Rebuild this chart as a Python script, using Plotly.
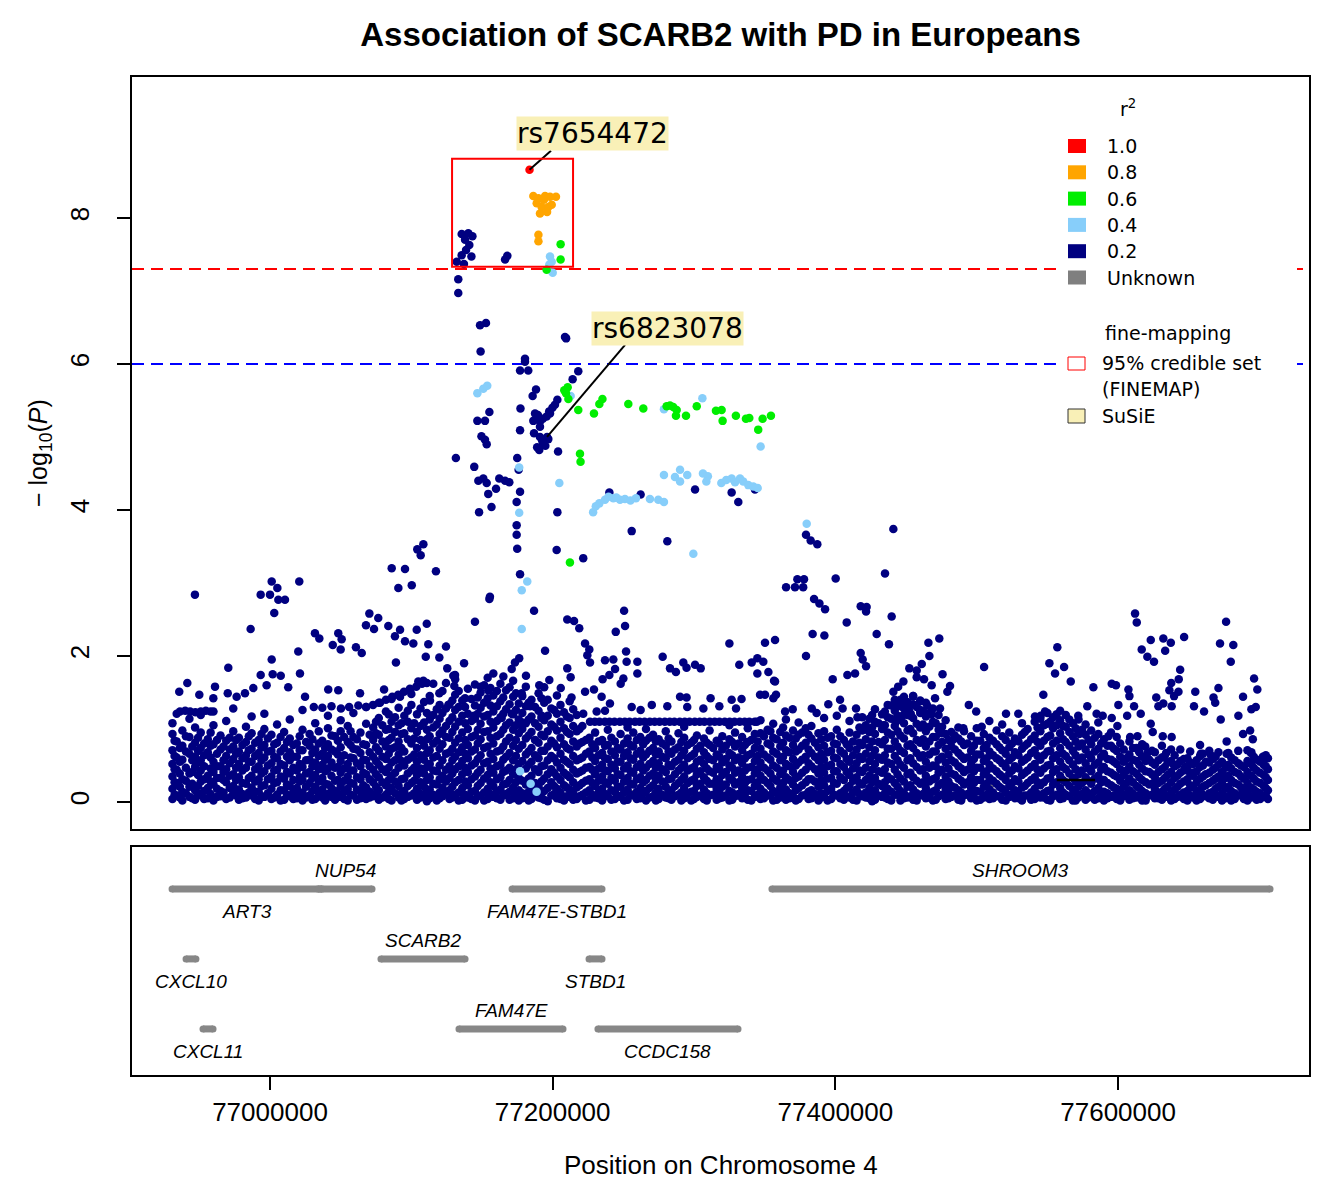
import plotly.graph_objects as go

# positions are kb on chromosome 4, values are -log10(P)
# r2 with the lead SNP decides the colour

lead_snp = [(77183.6, 8.66)]

r2_08 = [(77186.3, 8.30), (77189.9, 8.27), (77194.6, 8.30), (77198.1, 8.29), (77202.3, 8.29),
         (77188.7, 8.20), (77192.2, 8.15), (77196.9, 8.15), (77191.0, 8.06), (77196.0, 8.08),
         (77199.3, 8.18), (77193.8, 8.25), (77189.9, 7.77), (77189.9, 7.68)]

r2_06 = [(77205.6, 7.64), (77205.6, 7.43), (77195.7, 7.29), (77210.6, 5.68), (77209.4, 5.60),
         (77211.1, 5.52), (77218.1, 5.37), (77229.2, 5.32), (77233.0, 5.45), (77235.2, 5.52),
         (77253.5, 5.45), (77264.1, 5.39), (77280.6, 5.42), (77285.3, 5.41), (77287.7, 5.37),
         (77287.2, 5.29), (77294.3, 5.29), (77301.9, 5.42), (77315.5, 5.36), (77319.5, 5.37),
         (77320.2, 5.22), (77329.6, 5.29), (77336.7, 5.25), (77339.1, 5.26), (77348.5, 5.25),
         (77354.4, 5.29), (77345.4, 5.10), (77219.3, 4.77), (77219.7, 4.66), (77212.2, 3.28),
         (77208.2, 5.64), (77283.0, 5.43)]

r2_04 = [(77198.1, 7.47), (77199.3, 7.40), (77197.6, 7.36), (77200.0, 7.25), (77146.7, 5.60),
         (77150.9, 5.66), (77153.7, 5.70), (77212.7, 5.56), (77305.9, 5.53), (77278.7, 5.38),
         (77347.1, 4.87), (77176.3, 4.58), (77204.7, 4.37), (77176.3, 3.96), (77278.7, 4.48),
         (77286.5, 4.45), (77290.1, 4.55), (77295.2, 4.48), (77290.1, 4.39), (77306.3, 4.50),
         (77309.8, 4.46), (77308.7, 4.39), (77319.3, 4.37), (77326.6, 4.43), (77332.5, 4.43),
         (77334.8, 4.39), (77338.4, 4.34), (77341.9, 4.32), (77322.8, 4.41), (77329.0, 4.38),
         (77345.0, 4.30), (77228.6, 3.97), (77233.0, 4.09), (77237.0, 4.14), (77242.9, 4.16),
         (77247.6, 4.14), (77251.1, 4.15), (77258.9, 4.16), (77268.8, 4.15), (77274.7, 4.14),
         (77278.7, 4.11), (77239.5, 4.18), (77245.0, 4.17), (77255.0, 4.13), (77230.5, 4.05),
         (77299.5, 3.40), (77182.0, 3.02), (77178.1, 2.90), (77178.1, 2.37), (77379.7, 3.81),
         (77176.9, 0.42), (77184.4, 0.25), (77188.6, 0.14)]

r2_unknown = [(77255.2, 0.11), (77318.4, 0.06), (77510.6, 0.25)]

# r2 < 0.2, the peak and everything standing clear of the dense band
r2_02_peak = [
    (77135.6, 7.78), (77140.3, 7.79), (77143.2, 7.75), (77138.0, 7.70), (77141.0, 7.63),
    (77138.7, 7.56), (77135.6, 7.49), (77142.5, 7.47), (77132.1, 7.40), (77137.2, 7.37),
    (77166.3, 7.43), (77167.9, 7.48), (77133.2, 7.16), (77133.2, 6.97), (77148.6, 6.53),
    (77152.8, 6.56), (77149.0, 6.17), (77208.7, 6.37), (77209.5, 6.35), (77180.4, 6.07),
    (77180.4, 6.03), (77176.9, 5.91), (77182.7, 5.91), (77218.1, 5.90), (77214.1, 5.79),
    (77188.2, 5.65), (77185.8, 5.56), (77203.3, 5.51), (77201.6, 5.44), (77177.2, 5.39),
    (77155.2, 5.34), (77187.5, 5.32), (77198.1, 5.32), (77146.7, 5.22), (77152.1, 5.22),
    (77186.3, 5.22), (77191.0, 5.21), (77195.7, 5.28), (77191.0, 5.14), (77176.9, 5.09),
    (77186.8, 5.05), (77149.6, 5.01), (77152.1, 4.96), (77153.3, 4.90), (77191.0, 5.00),
    (77196.9, 4.97), (77193.3, 4.91), (77190.5, 4.82), (77203.8, 4.80), (77131.5, 4.71),
    (77174.9, 4.71), (77144.5, 4.59), (77175.9, 4.55), (77147.4, 4.40), (77150.9, 4.43),
    (77153.3, 4.37), (77162.2, 4.43), (77166.3, 4.40), (77169.3, 4.38), (77154.4, 4.22),
    (77159.9, 4.29), (77176.9, 4.25), (77174.5, 4.11), (77156.7, 4.04), (77147.9, 3.97),
    (77203.3, 3.97), (77174.5, 3.79), (77174.5, 3.66), (77174.9, 3.47), (77202.8, 3.45),
    (77221.6, 3.34), (77255.9, 3.71), (77281.1, 3.57), (77240.1, 4.24), (77262.2, 4.21),
    (77300.7, 4.28), (77326.6, 4.24), (77331.3, 4.11), (77343.1, 4.28), (77176.9, 3.12),
    (77155.6, 2.81), (77196.0, 5.00), (77189.5, 5.30), (77193.0, 5.25), (77197.5, 5.35),
    (77199.8, 5.40), (77192.5, 4.95), (77194.8, 4.88), (77189.0, 4.86)]

r2_02_left = [
    (77108.5, 3.53), (77104.2, 3.46), (77106.6, 3.38), (77086.1, 3.20), (77095.5, 3.19),
    (77117.4, 3.16), (77090.8, 2.93), (77100.3, 2.97), (76946.9, 2.84), (77001.2, 3.02),
    (77020.7, 3.02), (76993.4, 2.84), (77000.0, 2.84), (77005.2, 2.93), (77005.9, 2.77),
    (77010.6, 2.77), (77003.0, 2.59), (76986.3, 2.37), (77070.3, 2.58), (77076.6, 2.52),
    (77067.9, 2.42), (77073.6, 2.37), (77083.7, 2.41), (77092.0, 2.36), (77088.4, 2.27),
    (77031.8, 2.31), (77034.9, 2.24), (77048.3, 2.31), (77050.7, 2.23), (77044.4, 2.15),
    (77050.0, 2.09), (77060.8, 2.12), (77064.9, 2.04), (77095.5, 2.20), (77101.4, 2.17),
    (77103.8, 2.36), (77110.9, 2.44), (77112.0, 2.16), (77124.5, 2.13), (77110.2, 1.99),
    (77119.8, 1.98), (77125.4, 1.83), (77129.7, 1.73), (77089.1, 1.91), (77020.0, 2.06),
    (77001.2, 1.95), (76970.5, 1.84), (76993.4, 1.74), (77001.9, 1.75), (77007.6, 1.73),
    (77021.2, 1.76), (76941.5, 1.63), (76935.8, 1.51), (76961.1, 1.58), (76950.0, 1.47),
    (76959.9, 1.42), (76970.1, 1.49), (76976.4, 1.44), (76982.3, 1.49), (76988.2, 1.56),
    (76997.6, 1.60), (77012.9, 1.57), (77041.2, 1.54), (77048.3, 1.53), (77063.7, 1.49),
    (77024.8, 1.44), (77080.7, 1.54), (77104.9, 1.65), (77108.5, 1.66), (77115.5, 1.62),
    (77124.5, 1.63), (77130.4, 1.59), (77099.1, 1.53), (77092.0, 1.44), (77119.8, 1.49),
    (77126.2, 1.33), (77113.2, 1.39), (76936.3, 1.24), (76940.0, 1.25), (76943.5, 1.24),
    (76947.2, 1.23), (76951.0, 1.24), (76954.6, 1.25), (76958.0, 1.24), (77072.9, 1.33),
    (77077.8, 1.36), (77082.0, 1.40), (77086.5, 1.44), (77090.7, 1.47), (77094.8, 1.51),
    (77099.0, 1.55), (77103.5, 1.58), (77107.5, 1.62), (77111.0, 1.63), (77031.0, 1.30),
    (77037.0, 1.29), (77043.5, 1.31), (77050.2, 1.28), (77056.0, 1.30), (77062.5, 1.32),
    (77068.0, 1.30)]

r2_02_mid = [
    (77155.2, 2.78), (77145.0, 2.47), (77186.8, 2.62), (77210.3, 2.50), (77215.1, 2.48),
    (77218.8, 2.38), (77250.5, 2.62), (77251.2, 2.41), (77244.6, 2.33), (77222.9, 2.17),
    (77225.9, 2.09), (77224.5, 2.01), (77226.4, 1.91), (77194.6, 2.07), (77325.0, 2.17),
    (77350.2, 2.18), (77357.3, 2.22), (77251.9, 2.06), (77277.8, 1.99), (77252.3, 1.92),
    (77259.9, 1.92), (77237.0, 1.94), (77242.9, 1.95), (77244.1, 1.82), (77240.1, 1.74),
    (77235.3, 1.68), (77250.0, 1.69), (77248.1, 1.62), (77259.9, 1.76), (77283.0, 1.83),
    (77287.2, 1.78), (77292.4, 1.91), (77294.7, 1.84), (77300.7, 1.88), (77304.7, 1.83),
    (77332.0, 1.88), (77340.8, 1.91), (77344.8, 1.97), (77349.0, 1.92), (77344.8, 1.76),
    (77352.6, 1.78), (77356.6, 1.66), (77137.3, 1.90), (77176.3, 1.97), (77173.3, 1.91),
    (77171.0, 1.82), (77158.0, 1.76), (77165.1, 1.72), (77181.1, 1.73), (77130.9, 1.74),
    (77210.3, 1.83), (77212.7, 1.71), (77190.5, 1.60), (77197.6, 1.67), (77205.7, 1.56),
    (77149.1, 1.58), (77154.4, 1.53), (77138.0, 1.42), (77222.9, 1.51), (77229.2, 1.54),
    (77234.6, 1.44), (77240.5, 1.35), (77213.3, 1.43), (77178.1, 1.49), (77184.0, 1.31),
    (77192.2, 1.18), (77171.0, 1.21), (77163.9, 1.15), (77178.7, 1.09), (77144.3, 1.18),
    (77290.1, 1.44), (77294.7, 1.43), (77311.7, 1.42), (77326.6, 1.40), (77333.6, 1.41),
    (77346.7, 1.47), (77350.2, 1.47), (77356.1, 1.42), (77270.1, 1.33), (77255.9, 1.30),
    (77262.2, 1.26), (77281.1, 1.31), (77295.2, 1.30), (77306.6, 1.28), (77317.9, 1.31),
    (77329.7, 1.28), (77221.6, 1.21), (77231.1, 1.24), (77237.0, 1.25)]

# block of SNPs in perfect LD with each other, same P
r2_02_block = [
    (77226.4, 1.10), (77229.8, 1.10), (77233.1, 1.10), (77236.9, 1.10), (77240.2, 1.10),
    (77243.7, 1.10), (77247.5, 1.10), (77251.0, 1.10), (77254.4, 1.10), (77258.2, 1.10),
    (77261.5, 1.10), (77265.0, 1.10), (77268.7, 1.10), (77272.1, 1.10), (77275.6, 1.10),
    (77279.3, 1.10), (77282.8, 1.10), (77286.1, 1.10), (77289.9, 1.10), (77293.4, 1.10),
    (77296.8, 1.10), (77300.5, 1.10), (77304.0, 1.10), (77307.3, 1.10), (77311.1, 1.10),
    (77314.6, 1.10), (77318.0, 1.10), (77321.7, 1.10), (77325.2, 1.10), (77328.6, 1.10),
    (77332.3, 1.10), (77335.8, 1.10), (77339.1, 1.10), (77342.9, 1.10), (77344.4, 1.10)]

r2_02_right = [
    (77379.2, 3.66), (77382.5, 3.58), (77387.2, 3.53), (77441.0, 3.74), (77435.1, 3.13),
    (77373.1, 3.05), (77377.8, 3.05), (77365.1, 2.94), (77371.4, 2.94), (77377.2, 2.94),
    (77400.2, 3.06), (77384.9, 2.78), (77388.7, 2.72), (77392.7, 2.64), (77417.9, 2.68),
    (77422.1, 2.67), (77421.7, 2.61), (77439.8, 2.54), (77408.0, 2.46), (77383.9, 2.30),
    (77392.2, 2.28), (77429.2, 2.30), (77437.9, 2.16), (77379.2, 2.00), (77417.9, 2.04),
    (77419.3, 1.95), (77421.7, 1.86), (77408.5, 1.74), (77413.9, 1.76), (77398.1, 1.68),
    (77465.8, 2.18), (77473.5, 2.24), (77466.5, 2.00), (77461.1, 1.89), (77452.3, 1.83),
    (77457.5, 1.80), (77475.8, 1.75), (77505.2, 1.85), (77551.4, 1.90), (77357.3, 1.65),
    (77358.0, 1.47), (77448.1, 1.65), (77444.4, 1.58), (77441.0, 1.51), (77457.5, 1.71),
    (77462.7, 1.68), (77468.1, 1.60), (77481.1, 1.59), (77479.2, 1.51), (77395.0, 1.34),
    (77403.3, 1.40), (77405.1, 1.28), (77414.6, 1.28), (77415.6, 1.16), (77383.3, 1.28),
    (77386.7, 1.22), (77364.4, 1.24), (77369.8, 1.27), (77547.1, 1.47), (77494.4, 1.33),
    (77499.6, 1.24), (77520.7, 1.21), (77529.4, 1.21), (77541.2, 1.17), (77548.3, 1.24),
    (77423.3, 0.98), (77433.9, 1.05), (77442.9, 1.10), (77453.3, 1.21), (77459.9, 1.26),
    (77483.0, 0.85), (77475.2, 0.94), (77490.5, 1.01), (77503.5, 1.03), (77508.9, 1.11),
    (77446.0, 1.40), (77450.5, 1.35), (77455.0, 1.45), (77460.0, 1.38), (77465.0, 1.32),
    (77470.5, 1.42), (77474.0, 1.28), (77447.5, 1.18), (77452.0, 1.26), (77468.0, 1.20),
    (77612.0, 2.58), (77613.2, 2.46), (77676.4, 2.47), (77557.0, 2.12), (77623.1, 2.22),
    (77632.0, 2.24), (77646.7, 2.26), (77637.3, 2.18), (77633.3, 2.07), (77616.7, 2.09),
    (77620.7, 1.99), (77625.4, 1.92), (77672.1, 2.17), (77681.5, 2.15), (77679.7, 1.92),
    (77561.8, 1.85), (77555.4, 1.76), (77566.5, 1.65), (77643.9, 1.81), (77642.9, 1.68),
    (77637.6, 1.63), (77696.2, 1.69), (77698.5, 1.54), (77582.5, 1.57), (77595.5, 1.62),
    (77598.5, 1.60), (77607.3, 1.54), (77608.0, 1.45), (77636.3, 1.53), (77639.6, 1.45),
    (77642.7, 1.51), (77627.0, 1.43), (77632.0, 1.35), (77628.5, 1.31), (77637.9, 1.31),
    (77654.6, 1.51), (77671.0, 1.56), (77667.5, 1.43), (77668.7, 1.36), (77688.4, 1.44),
    (77653.7, 1.31), (77660.8, 1.24), (77694.3, 1.27), (77697.4, 1.30), (77685.1, 1.18),
    (77672.6, 1.13), (77600.2, 1.33), (77611.3, 1.31), (77616.0, 1.21), (77595.5, 1.15),
    (77599.5, 1.04), (77578.2, 1.31), (77571.8, 1.18), (77584.8, 1.21), (77589.1, 1.18),
    (77606.4, 1.18), (77623.1, 1.07), (77624.5, 0.96), (77631.6, 0.90), (77637.9, 0.89),
    (77688.4, 0.93), (77693.4, 0.98), (77695.3, 0.86), (77676.8, 0.83), (77619.2, 0.76),
    (77620.8, 0.67), (77634.0, 0.67), (77658.5, 0.66), (77665.6, 0.64), (77676.8, 0.66),
    (77694.3, 0.68), (77702.4, 0.62), (77702.4, 0.55), (77545.2, 1.18), (77572.6, 0.93),
    (77593.1, 0.90), (77608.5, 0.89), (77613.7, 0.90), (77614.4, 0.71), (77638.8, 0.52),
    (77647.4, 0.48), (77652.9, 0.40)]

# the dense band of weak SNPs, read column by column (kb, [-log10 P ...])
r2_02_band = [
    (76931, [0.04, 0.18, 0.35, 0.52, 0.71, 0.93, 1.08]),
    (76934, [0.09, 0.26, 0.44, 0.61, 0.83, 1.21]),
    (76938, [0.02, 0.14, 0.31, 0.58, 0.77, 0.98]),
    (76943, [0.07, 0.21, 0.39, 0.66, 0.89, 1.14]),
    (76947, [0.03, 0.16, 0.48, 0.62, 0.81, 1.02]),
    (76951, [0.11, 0.28, 0.43, 0.57, 0.74, 0.95, 1.19]),
    (76956, [0.05, 0.19, 0.36, 0.68, 0.86]),
    (76960, [0.02, 0.24, 0.41, 0.55, 0.79, 1.05, 1.24]),
    (76965, [0.08, 0.15, 0.33, 0.49, 0.72, 0.91]),
    (76969, [0.04, 0.27, 0.45, 0.63, 0.84, 1.11]),
    (76974, [0.12, 0.22, 0.38, 0.59, 0.76, 0.97, 1.28]),
    (76978, [0.03, 0.17, 0.34, 0.52, 0.69, 0.88]),
    (76983, [0.06, 0.25, 0.47, 0.64, 0.82, 1.03]),
    (76987, [0.09, 0.20, 0.36, 0.55, 0.73, 0.94, 1.17]),
    (76992, [0.02, 0.14, 0.31, 0.49, 0.67, 0.85]),
    (76996, [0.07, 0.23, 0.42, 0.61, 0.78, 1.00, 1.21]),
    (77001, [0.04, 0.18, 0.35, 0.53, 0.70, 0.92]),
    (77005, [0.10, 0.27, 0.44, 0.60, 0.81, 1.06]),
    (77010, [0.03, 0.16, 0.32, 0.50, 0.74, 0.96]),
    (77014, [0.08, 0.22, 0.39, 0.57, 0.68, 0.87, 1.13]),
    (77019, [0.05, 0.19, 0.43, 0.62, 0.80]),
    (77023, [0.02, 0.13, 0.30, 0.48, 0.71, 0.99, 1.26]),
    (77028, [0.09, 0.26, 0.41, 0.58, 0.77, 0.93]),
    (77032, [0.04, 0.21, 0.37, 0.54, 0.72, 1.08]),
    (77037, [0.06, 0.17, 0.33, 0.51, 0.66, 0.84]),
    (77041, [0.11, 0.24, 0.46, 0.63, 0.79, 1.01, 1.18]),
    (77046, [0.03, 0.15, 0.29, 0.47, 0.69, 0.90]),
    (77050, [0.07, 0.22, 0.40, 0.56, 0.75, 0.97, 1.12]),
    (77055, [0.02, 0.18, 0.35, 0.52, 0.82, 1.04]),
    (77059, [0.09, 0.25, 0.43, 0.60, 0.73, 0.89, 1.22]),
    (77064, [0.05, 0.14, 0.31, 0.49, 0.67, 0.95]),
    (77068, [0.04, 0.20, 0.38, 0.57, 0.78, 1.07, 1.30]),
    (77073, [0.08, 0.27, 0.44, 0.62, 0.85, 1.02]),
    (77077, [0.03, 0.16, 0.34, 0.51, 0.70, 0.92, 1.15, 1.36]),
    (77082, [0.10, 0.23, 0.41, 0.59, 0.76, 0.99, 1.24]),
    (77086, [0.02, 0.19, 0.36, 0.54, 0.73, 0.88, 1.10, 1.41]),
    (77091, [0.06, 0.22, 0.47, 0.65, 0.83, 1.05, 1.29]),
    (77095, [0.04, 0.15, 0.32, 0.50, 0.69, 0.94, 1.18]),
    (77100, [0.09, 0.26, 0.43, 0.61, 0.80, 1.01, 1.33, 1.48]),
    (77104, [0.03, 0.18, 0.37, 0.55, 0.74, 0.96, 1.20]),
    (77109, [0.07, 0.21, 0.39, 0.58, 0.77, 1.09, 1.37]),
    (77113, [0.05, 0.17, 0.34, 0.52, 0.71, 0.90, 1.13, 1.45]),
    (77118, [0.02, 0.24, 0.42, 0.63, 0.84, 1.06, 1.27]),
    (77122, [0.08, 0.20, 0.36, 0.57, 0.79, 0.98, 1.22, 1.52]),
    (77127, [0.04, 0.16, 0.33, 0.49, 0.68, 0.88, 1.11, 1.34]),
    (77131, [0.10, 0.27, 0.45, 0.62, 0.81, 1.03, 1.26, 1.47, 1.68]),
    (77136, [0.03, 0.19, 0.38, 0.56, 0.75, 0.95, 1.18, 1.39]),
    (77140, [0.06, 0.23, 0.41, 0.60, 0.78, 1.00, 1.21, 1.55]),
    (77145, [0.02, 0.15, 0.35, 0.53, 0.72, 0.91, 1.14, 1.32, 1.61]),
    (77149, [0.09, 0.26, 0.44, 0.64, 0.86, 1.07, 1.29, 1.50]),
    (77154, [0.04, 0.18, 0.37, 0.55, 0.76, 0.97, 1.19, 1.42, 1.70]),
    (77158, [0.07, 0.22, 0.40, 0.59, 0.80, 1.02, 1.24, 1.46]),
    (77163, [0.03, 0.17, 0.34, 0.51, 0.71, 0.93, 1.16, 1.38, 1.62]),
    (77167, [0.11, 0.25, 0.43, 0.62, 0.83, 1.05, 1.27, 1.53]),
    (77172, [0.05, 0.20, 0.38, 0.57, 0.77, 0.99, 1.20, 1.44, 1.66]),
    (77176, [0.02, 0.16, 0.33, 0.52, 0.73, 0.94, 1.13, 1.35]),
    (77181, [0.08, 0.24, 0.46, 0.65, 0.87, 1.08, 1.31, 1.58]),
    (77185, [0.04, 0.19, 0.36, 0.55, 0.74, 0.96, 1.17, 1.40]),
    (77190, [0.06, 0.21, 0.41, 0.60, 0.81, 1.03, 1.25, 1.49]),
    (77194, [0.03, 0.15, 0.32, 0.50, 0.70, 0.90, 1.12, 1.36, 1.57]),
    (77199, [0.09, 0.27, 0.45, 0.63, 0.84, 1.06, 1.28]),
    (77203, [0.05, 0.18, 0.35, 0.54, 0.75, 0.98, 1.21, 1.46]),
    (77208, [0.02, 0.23, 0.40, 0.58, 0.79, 1.01, 1.23]),
    (77212, [0.07, 0.17, 0.34, 0.52, 0.72, 0.93, 1.15, 1.38]),
    (77217, [0.04, 0.20, 0.39, 0.57, 0.76, 0.97, 1.19]),
    (77221, [0.10, 0.26, 0.43, 0.61, 0.82, 1.04]),
    (77226, [0.03, 0.16, 0.31, 0.48, 0.69, 0.88]),
    (77230, [0.06, 0.22, 0.38, 0.56, 0.74, 0.95]),
    (77235, [0.02, 0.18, 0.35, 0.51, 0.67, 0.85]),
    (77239, [0.08, 0.25, 0.42, 0.59, 0.78, 0.99]),
    (77244, [0.04, 0.14, 0.29, 0.46, 0.64, 0.83]),
    (77248, [0.07, 0.21, 0.37, 0.55, 0.72, 0.93]),
    (77253, [0.03, 0.17, 0.33, 0.50, 0.68, 0.87, 1.02]),
    (77257, [0.09, 0.24, 0.40, 0.58, 0.76, 0.95]),
    (77262, [0.05, 0.19, 0.34, 0.52, 0.70, 0.89]),
    (77266, [0.02, 0.15, 0.30, 0.47, 0.65, 0.84, 1.00]),
    (77271, [0.08, 0.23, 0.39, 0.56, 0.74, 0.92]),
    (77275, [0.04, 0.18, 0.36, 0.53, 0.69, 0.86]),
    (77280, [0.06, 0.21, 0.41, 0.60, 0.77, 0.97]),
    (77284, [0.03, 0.16, 0.32, 0.49, 0.66, 0.83]),
    (77289, [0.10, 0.26, 0.43, 0.58, 0.75, 0.94]),
    (77293, [0.05, 0.19, 0.35, 0.51, 0.70, 0.88, 1.03]),
    (77298, [0.02, 0.14, 0.29, 0.46, 0.63, 0.81]),
    (77302, [0.07, 0.22, 0.38, 0.55, 0.73, 0.91]),
    (77307, [0.04, 0.17, 0.34, 0.52, 0.68, 0.87]),
    (77311, [0.09, 0.25, 0.42, 0.59, 0.78, 0.98]),
    (77316, [0.03, 0.18, 0.31, 0.48, 0.65, 0.84]),
    (77320, [0.06, 0.21, 0.37, 0.54, 0.72, 0.90]),
    (77325, [0.02, 0.15, 0.33, 0.50, 0.67, 0.86, 1.05]),
    (77329, [0.08, 0.24, 0.40, 0.57, 0.76, 0.95]),
    (77334, [0.05, 0.19, 0.35, 0.53, 0.71, 0.89]),
    (77338, [0.03, 0.16, 0.30, 0.47, 0.64, 0.82, 1.01]),
    (77343, [0.07, 0.22, 0.39, 0.56, 0.74, 0.93]),
    (77347, [0.04, 0.18, 0.36, 0.54, 0.73, 0.94, 1.12]),
    (77352, [0.09, 0.26, 0.43, 0.61, 0.80, 0.99]),
    (77356, [0.02, 0.15, 0.32, 0.50, 0.69, 0.88, 1.07]),
    (77361, [0.06, 0.20, 0.38, 0.57, 0.76, 0.96]),
    (77365, [0.03, 0.17, 0.34, 0.52, 0.71, 0.91, 1.13]),
    (77370, [0.08, 0.24, 0.41, 0.59, 0.78, 0.98]),
    (77374, [0.04, 0.19, 0.35, 0.54, 0.72, 0.92, 1.09]),
    (77379, [0.10, 0.27, 0.44, 0.62, 0.81, 1.01]),
    (77383, [0.05, 0.16, 0.31, 0.49, 0.67, 0.87, 1.04]),
    (77388, [0.02, 0.21, 0.39, 0.57, 0.75, 0.94]),
    (77392, [0.07, 0.23, 0.40, 0.58, 0.77, 0.97, 1.15]),
    (77397, [0.04, 0.18, 0.33, 0.51, 0.70, 0.90]),
    (77401, [0.09, 0.25, 0.42, 0.60, 0.79, 0.99, 1.18]),
    (77406, [0.03, 0.15, 0.30, 0.48, 0.66, 0.85]),
    (77410, [0.06, 0.22, 0.37, 0.55, 0.74, 0.95, 1.11]),
    (77415, [0.02, 0.17, 0.34, 0.53, 0.72, 0.92]),
    (77419, [0.08, 0.24, 0.41, 0.59, 0.78, 0.98, 1.16]),
    (77424, [0.05, 0.19, 0.36, 0.56, 0.75, 0.96, 1.14]),
    (77428, [0.03, 0.16, 0.33, 0.52, 0.71, 0.93, 1.10, 1.27]),
    (77433, [0.07, 0.22, 0.40, 0.58, 0.79, 1.00, 1.20]),
    (77437, [0.04, 0.18, 0.35, 0.54, 0.73, 0.95, 1.16, 1.33]),
    (77442, [0.10, 0.26, 0.44, 0.63, 0.83, 1.04, 1.25, 1.40]),
    (77446, [0.02, 0.15, 0.32, 0.51, 0.70, 0.91, 1.13, 1.31]),
    (77451, [0.06, 0.21, 0.38, 0.57, 0.77, 0.98, 1.19, 1.37]),
    (77455, [0.03, 0.17, 0.34, 0.53, 0.74, 0.94, 1.15, 1.34, 1.45]),
    (77460, [0.09, 0.25, 0.43, 0.61, 0.81, 1.02, 1.22, 1.39]),
    (77464, [0.05, 0.19, 0.36, 0.55, 0.76, 0.97, 1.17, 1.36]),
    (77469, [0.02, 0.14, 0.31, 0.50, 0.69, 0.89, 1.10, 1.28]),
    (77473, [0.08, 0.23, 0.40, 0.58, 0.78, 0.99, 1.19]),
    (77478, [0.04, 0.18, 0.35, 0.54, 0.73, 0.93, 1.12]),
    (77482, [0.07, 0.22, 0.39, 0.57, 0.76, 0.96]),
    (77487, [0.03, 0.16, 0.32, 0.49, 0.67, 0.87, 1.02]),
    (77491, [0.09, 0.24, 0.41, 0.59, 0.78, 0.97]),
    (77496, [0.05, 0.19, 0.34, 0.52, 0.70, 0.90]),
    (77500, [0.02, 0.15, 0.30, 0.47, 0.65, 0.84, 1.01]),
    (77505, [0.06, 0.21, 0.38, 0.56, 0.74, 0.93]),
    (77509, [0.04, 0.17, 0.33, 0.51, 0.69, 0.88]),
    (77514, [0.08, 0.25, 0.42, 0.60, 0.79, 0.98]),
    (77518, [0.03, 0.18, 0.35, 0.53, 0.71, 0.90, 1.06]),
    (77523, [0.07, 0.22, 0.39, 0.57, 0.75, 0.95]),
    (77527, [0.05, 0.16, 0.31, 0.49, 0.68, 0.87]),
    (77532, [0.02, 0.20, 0.37, 0.55, 0.73, 0.92, 1.08]),
    (77536, [0.09, 0.26, 0.43, 0.61, 0.80, 1.00]),
    (77541, [0.04, 0.18, 0.34, 0.52, 0.71, 0.91, 1.10]),
    (77545, [0.06, 0.23, 0.40, 0.58, 0.77, 0.97, 1.14]),
    (77550, [0.03, 0.15, 0.32, 0.50, 0.69, 0.89, 1.07, 1.22]),
    (77554, [0.08, 0.24, 0.41, 0.60, 0.80, 1.01, 1.16]),
    (77559, [0.04, 0.19, 0.36, 0.55, 0.74, 0.94, 1.12, 1.25]),
    (77563, [0.10, 0.27, 0.45, 0.63, 0.82, 1.03, 1.19]),
    (77568, [0.02, 0.17, 0.33, 0.51, 0.70, 0.90, 1.08]),
    (77572, [0.06, 0.21, 0.38, 0.57, 0.76, 0.96, 1.13]),
    (77577, [0.03, 0.16, 0.34, 0.53, 0.72, 0.92, 1.06]),
    (77581, [0.09, 0.25, 0.42, 0.60, 0.79, 0.98]),
    (77586, [0.05, 0.19, 0.36, 0.54, 0.73, 0.93, 1.09]),
    (77590, [0.02, 0.14, 0.30, 0.48, 0.66, 0.86]),
    (77595, [0.07, 0.23, 0.40, 0.58, 0.77, 0.95]),
    (77599, [0.04, 0.18, 0.35, 0.52, 0.70, 0.89]),
    (77604, [0.08, 0.21, 0.37, 0.55, 0.72]),
    (77608, [0.03, 0.16, 0.32, 0.49, 0.65, 0.83]),
    (77613, [0.06, 0.22, 0.39, 0.56, 0.74]),
    (77617, [0.02, 0.15, 0.30, 0.46, 0.62, 0.79]),
    (77622, [0.09, 0.24, 0.41, 0.58]),
    (77626, [0.05, 0.18, 0.34, 0.51, 0.68]),
    (77631, [0.03, 0.14, 0.29, 0.45, 0.61, 0.77]),
    (77635, [0.07, 0.21, 0.37, 0.54]),
    (77640, [0.04, 0.17, 0.33, 0.49, 0.64]),
    (77644, [0.10, 0.25, 0.40, 0.56, 0.72]),
    (77649, [0.02, 0.15, 0.31, 0.47, 0.60]),
    (77653, [0.06, 0.20, 0.36, 0.52]),
    (77658, [0.04, 0.17, 0.32, 0.48, 0.63, 0.78]),
    (77662, [0.08, 0.23, 0.38, 0.55]),
    (77667, [0.03, 0.14, 0.29, 0.44, 0.59]),
    (77671, [0.07, 0.21, 0.35, 0.51, 0.68]),
    (77676, [0.05, 0.18, 0.33, 0.47]),
    (77680, [0.02, 0.15, 0.30, 0.46, 0.61]),
    (77685, [0.09, 0.24, 0.39, 0.53, 0.70]),
    (77689, [0.04, 0.17, 0.32, 0.48]),
    (77694, [0.06, 0.20, 0.36, 0.52, 0.67]),
    (77698, [0.03, 0.14, 0.28, 0.43, 0.58]),
    (77703, [0.07, 0.22, 0.37, 0.51]),
    (77706, [0.04, 0.16, 0.30, 0.45, 0.60]),
]

# second pass over the band, between the columns above
r2_02_band_fill = [
    (76932.5, [0.10, 0.27, 0.45, 0.63, 0.84]),
    (76936.2, [0.06, 0.21, 0.39, 0.55, 0.74]),
    (76940.5, [0.12, 0.29, 0.47, 0.69, 0.90]),
    (76945.0, [0.05, 0.25, 0.41, 0.57, 0.76]),
    (76949.1, [0.09, 0.22, 0.37, 0.54, 0.70, 0.88]),
    (76953.4, [0.04, 0.15, 0.31, 0.49, 0.64, 0.80]),
    (76958.0, [0.11, 0.28, 0.46, 0.61, 0.77, 0.95]),
    (76962.5, [0.07, 0.18, 0.33, 0.49, 0.66, 0.85]),
    (76967.1, [0.13, 0.30, 0.41, 0.57, 0.76]),
    (76971.5, [0.06, 0.19, 0.36, 0.53, 0.72, 0.88]),
    (76976.0, [0.09, 0.30, 0.47, 0.66, 0.85]),
    (76980.5, [0.05, 0.11, 0.26, 0.43, 0.60, 0.78]),
    (76985.0, [0.13, 0.33, 0.55, 0.71, 0.90]),
    (76989.5, [0.04, 0.14, 0.28, 0.45, 0.63, 0.81]),
    (76994.0, [0.08, 0.22, 0.39, 0.57, 0.75, 0.93]),
    (76998.5, [0.12, 0.31, 0.50, 0.69, 0.87]),
    (77003.0, [0.06, 0.26, 0.43, 0.62, 0.79]),
    (77007.5, [0.02, 0.16, 0.35, 0.52, 0.69, 0.89]),
    (77012.0, [0.10, 0.24, 0.41, 0.62, 0.82]),
    (77016.5, [0.04, 0.14, 0.30, 0.47, 0.62, 0.78]),
    (77021.0, [0.11, 0.28, 0.34, 0.52, 0.71, 0.90]),
    (77025.5, [0.06, 0.21, 0.39, 0.57, 0.82]),
    (77030.0, [0.03, 0.15, 0.33, 0.49, 0.67, 0.86]),
    (77034.5, [0.12, 0.28, 0.45, 0.63, 0.80, 0.97]),
    (77039.0, [0.02, 0.10, 0.25, 0.42, 0.58, 0.74]),
    (77043.5, [0.07, 0.19, 0.36, 0.54, 0.72, 0.91]),
    (77048.0, [0.12, 0.30, 0.48, 0.65, 0.84]),
    (77052.5, [0.04, 0.14, 0.29, 0.46, 0.64, 0.89]),
    (77057.0, [0.10, 0.26, 0.43, 0.61, 0.78, 0.97]),
    (77061.5, [0.03, 0.17, 0.34, 0.53, 0.72, 0.86]),
    (77066.0, [0.11, 0.23, 0.40, 0.58, 0.79]),
    (77070.5, [0.06, 0.14, 0.31, 0.49, 0.68, 0.92]),
    (77075.0, [0.12, 0.21, 0.38, 0.56, 0.75, 0.94, 1.10]),
    (77079.5, [0.06, 0.27, 0.45, 0.62, 0.83, 1.05]),
    (77084.0, [0.04, 0.14, 0.30, 0.47, 0.66, 0.85, 1.00, 1.20]),
    (77088.5, [0.12, 0.28, 0.40, 0.57, 0.75, 0.96, 1.16]),
    (77093.0, [0.02, 0.12, 0.31, 0.56, 0.74, 0.93, 1.08]),
    (77097.5, [0.07, 0.22, 0.39, 0.58, 0.86, 1.10, 1.25]),
    (77102.0, [0.12, 0.29, 0.47, 0.65, 0.87, 1.08]),
    (77106.5, [0.06, 0.11, 0.27, 0.46, 0.64, 0.85, 1.04, 1.28]),
    (77111.0, [0.01, 0.14, 0.30, 0.48, 0.67, 0.86, 0.99, 1.22]),
    (77115.5, [0.10, 0.25, 0.43, 0.61, 0.80, 1.02, 1.19]),
    (77120.0, [0.05, 0.13, 0.31, 0.50, 0.73, 0.93, 1.14, 1.33]),
    (77124.5, [0.12, 0.28, 0.44, 0.66, 0.89, 1.04, 1.28]),
    (77129.0, [0.06, 0.21, 0.39, 0.57, 0.73, 0.96, 1.16, 1.39]),
    (77133.5, [0.02, 0.13, 0.30, 0.49, 0.68, 0.87, 1.10, 1.30, 1.52]),
    (77138.0, [0.10, 0.28, 0.47, 0.66, 0.85, 1.08, 1.30]),
    (77142.5, [0.04, 0.14, 0.31, 0.50, 0.69, 0.89, 1.11, 1.41]),
    (77147.0, [0.08, 0.22, 0.40, 0.59, 0.80, 0.99, 1.21, 1.43]),
    (77151.5, [0.02, 0.13, 0.32, 0.53, 0.74, 0.96, 1.17, 1.36, 1.60]),
    (77156.0, [0.11, 0.27, 0.46, 0.66, 0.88, 1.10, 1.32, 1.56]),
    (77160.5, [0.05, 0.14, 0.31, 0.49, 0.69, 0.90, 1.11, 1.31, 1.52]),
    (77165.0, [0.09, 0.24, 0.41, 0.58, 0.76, 0.99, 1.21, 1.43]),
    (77169.5, [0.03, 0.14, 0.30, 0.47, 0.67, 0.88, 1.09, 1.34, 1.57]),
    (77174.0, [0.11, 0.27, 0.45, 0.63, 0.85, 1.05, 1.26, 1.49]),
    (77178.5, [0.05, 0.12, 0.29, 0.56, 0.78, 1.00, 1.22, 1.45]),
    (77183.0, [0.02, 0.14, 0.32, 0.51, 0.69, 0.91, 1.13, 1.36]),
    (77187.5, [0.10, 0.26, 0.45, 0.64, 0.85, 1.08, 1.30]),
    (77192.0, [0.05, 0.12, 0.28, 0.49, 0.70, 0.92, 1.15, 1.42]),
    (77196.5, [0.01, 0.19, 0.38, 0.57, 0.76, 0.97, 1.18, 1.40]),
    (77201.0, [0.11, 0.22, 0.40, 0.60, 0.80, 1.03, 1.26]),
    (77205.5, [0.04, 0.13, 0.30, 0.47, 0.66, 0.88, 1.10, 1.33]),
    (77210.0, [0.08, 0.20, 0.37, 0.55, 0.74, 0.96, 1.17]),
    (77214.5, [0.03, 0.12, 0.27, 0.44, 0.63, 0.83, 1.04, 1.27]),
    (77219.0, [0.08, 0.23, 0.41, 0.59, 0.80, 1.00]),
    (77223.5, [0.02, 0.13, 0.29, 0.47, 0.66, 0.85]),
    (77228.0, [0.10, 0.26, 0.44, 0.61, 0.79]),
    (77232.5, [0.05, 0.13, 0.29, 0.46, 0.64, 0.83]),
    (77237.0, [0.11, 0.27, 0.43, 0.60, 0.77]),
    (77241.5, [0.03, 0.16, 0.33, 0.51, 0.69, 0.88]),
    (77246.0, [0.09, 0.21, 0.38, 0.55, 0.74]),
    (77250.5, [0.02, 0.13, 0.28, 0.46, 0.63, 0.80]),
    (77255.0, [0.10, 0.25, 0.42, 0.60, 0.78]),
    (77259.5, [0.04, 0.14, 0.31, 0.48, 0.66, 0.85]),
    (77264.0, [0.12, 0.27, 0.43, 0.61, 0.79]),
    (77268.5, [0.06, 0.19, 0.36, 0.52, 0.70, 0.88]),
    (77273.0, [0.02, 0.13, 0.30, 0.47, 0.65, 0.83]),
    (77277.5, [0.10, 0.28, 0.45, 0.62, 0.80]),
    (77282.0, [0.05, 0.14, 0.31, 0.51, 0.69, 0.87]),
    (77286.5, [0.08, 0.22, 0.38, 0.55, 0.72]),
    (77291.0, [0.02, 0.13, 0.30, 0.47, 0.64, 0.82]),
    (77295.5, [0.11, 0.26, 0.43, 0.60, 0.78]),
    (77300.0, [0.04, 0.15, 0.31, 0.48, 0.66, 0.85]),
    (77304.5, [0.09, 0.25, 0.42, 0.58, 0.77]),
    (77309.0, [0.02, 0.12, 0.29, 0.46, 0.63, 0.81]),
    (77313.5, [0.10, 0.25, 0.40, 0.57, 0.74]),
    (77318.0, [0.05, 0.13, 0.28, 0.45, 0.62, 0.80]),
    (77322.5, [0.09, 0.24, 0.41, 0.59, 0.77]),
    (77327.0, [0.03, 0.13, 0.30, 0.47, 0.64, 0.82]),
    (77331.5, [0.11, 0.27, 0.43, 0.61, 0.80]),
    (77336.0, [0.06, 0.12, 0.26, 0.43, 0.60, 0.78]),
    (77340.5, [0.02, 0.15, 0.31, 0.48, 0.66, 0.85]),
    (77345.0, [0.10, 0.27, 0.45, 0.63, 0.83]),
    (77349.5, [0.05, 0.13, 0.30, 0.47, 0.65, 0.90]),
    (77354.0, [0.09, 0.22, 0.39, 0.58, 0.78, 0.97]),
    (77358.5, [0.03, 0.13, 0.29, 0.47, 0.66, 0.86]),
    (77363.0, [0.11, 0.26, 0.43, 0.62, 0.81, 1.02]),
    (77367.5, [0.05, 0.12, 0.30, 0.49, 0.68, 0.88]),
    (77372.0, [0.02, 0.16, 0.33, 0.50, 0.69, 0.87]),
    (77376.5, [0.09, 0.23, 0.40, 0.58, 0.77, 0.95]),
    (77381.0, [0.04, 0.14, 0.31, 0.53, 0.72, 0.92]),
    (77385.5, [0.11, 0.28, 0.45, 0.62, 0.81]),
    (77390.0, [0.06, 0.12, 0.30, 0.48, 0.66, 0.86]),
    (77394.5, [0.02, 0.15, 0.32, 0.49, 0.68, 0.88]),
    (77399.0, [0.10, 0.26, 0.42, 0.61, 0.80]),
    (77403.5, [0.05, 0.12, 0.34, 0.52, 0.70, 0.90]),
    (77408.0, [0.08, 0.19, 0.41, 0.59, 0.79]),
    (77412.5, [0.03, 0.13, 0.29, 0.46, 0.64, 0.83]),
    (77417.0, [0.11, 0.26, 0.43, 0.62, 0.81, 1.02]),
    (77421.5, [0.06, 0.13, 0.30, 0.47, 0.66, 0.86, 1.05]),
    (77426.0, [0.01, 0.11, 0.27, 0.44, 0.63, 0.83, 1.02, 1.19]),
    (77430.5, [0.09, 0.25, 0.42, 0.61, 0.82, 1.08]),
    (77435.0, [0.06, 0.12, 0.27, 0.45, 0.64, 0.85, 1.05, 1.24]),
    (77439.5, [0.02, 0.14, 0.31, 0.52, 0.73, 0.92, 1.14, 1.32]),
    (77444.0, [0.10, 0.21, 0.38, 0.57, 0.76, 0.97, 1.18, 1.35]),
    (77448.5, [0.05, 0.12, 0.28, 0.47, 0.67, 0.87, 1.08, 1.28, 1.44]),
    (77453.0, [0.08, 0.23, 0.40, 0.60, 0.79, 1.00, 1.18, 1.33]),
    (77457.5, [0.02, 0.12, 0.29, 0.48, 0.67, 0.85, 1.07, 1.30]),
    (77462.0, [0.11, 0.27, 0.45, 0.64, 0.86, 1.06, 1.25]),
    (77466.5, [0.06, 0.12, 0.28, 0.47, 0.65, 0.83, 1.03, 1.22]),
    (77471.0, [0.03, 0.16, 0.33, 0.49, 0.69, 0.89, 1.08]),
    (77475.5, [0.10, 0.26, 0.44, 0.62, 0.82, 1.03]),
    (77480.0, [0.05, 0.13, 0.28, 0.46, 0.65, 0.85]),
    (77484.5, [0.09, 0.20, 0.37, 0.54, 0.72, 0.91]),
    (77489.0, [0.02, 0.13, 0.29, 0.46, 0.63, 0.83]),
    (77493.5, [0.11, 0.27, 0.44, 0.61, 0.80]),
    (77498.0, [0.06, 0.12, 0.26, 0.42, 0.59, 0.77]),
    (77502.5, [0.03, 0.14, 0.30, 0.47, 0.65, 0.84]),
    (77507.0, [0.10, 0.25, 0.42, 0.60, 0.78]),
    (77511.5, [0.05, 0.13, 0.29, 0.46, 0.64, 0.84]),
    (77516.0, [0.08, 0.21, 0.38, 0.57, 0.75]),
    (77520.5, [0.02, 0.13, 0.30, 0.48, 0.66, 0.85]),
    (77525.0, [0.11, 0.26, 0.43, 0.61, 0.80]),
    (77529.5, [0.05, 0.12, 0.28, 0.46, 0.64, 0.83]),
    (77534.0, [0.09, 0.22, 0.40, 0.58, 0.77, 0.96]),
    (77538.5, [0.03, 0.13, 0.30, 0.48, 0.67, 0.86]),
    (77543.0, [0.11, 0.27, 0.44, 0.63, 0.82, 1.02]),
    (77547.5, [0.06, 0.12, 0.27, 0.46, 0.64, 0.84, 1.05]),
    (77552.0, [0.02, 0.16, 0.33, 0.51, 0.70, 0.91, 1.10]),
    (77556.5, [0.10, 0.27, 0.45, 0.64, 0.84, 1.05, 1.20]),
    (77561.0, [0.05, 0.13, 0.30, 0.48, 0.66, 0.86, 1.04]),
    (77565.5, [0.08, 0.22, 0.39, 0.57, 0.77, 0.96, 1.13]),
    (77570.0, [0.02, 0.12, 0.28, 0.45, 0.64, 0.83, 1.01]),
    (77574.5, [0.11, 0.26, 0.43, 0.61, 0.80, 0.99]),
    (77579.0, [0.06, 0.12, 0.29, 0.46, 0.65, 0.85]),
    (77583.5, [0.03, 0.15, 0.32, 0.51, 0.69, 0.88]),
    (77588.0, [0.10, 0.27, 0.44, 0.62, 0.80]),
    (77592.5, [0.05, 0.12, 0.26, 0.42, 0.59, 0.77]),
    (77597.0, [0.09, 0.20, 0.37, 0.55, 0.73]),
    (77601.5, [0.02, 0.13, 0.29, 0.45, 0.62, 0.80]),
    (77606.0, [0.11, 0.26, 0.43, 0.60]),
    (77610.5, [0.05, 0.12, 0.27, 0.42, 0.58, 0.74]),
    (77615.0, [0.09, 0.19, 0.34, 0.51, 0.68]),
    (77619.5, [0.02, 0.12, 0.27, 0.42, 0.56]),
    (77624.0, [0.10, 0.25, 0.38, 0.54, 0.70]),
    (77628.5, [0.05, 0.12, 0.26, 0.41, 0.57]),
    (77633.0, [0.09, 0.18, 0.33, 0.48, 0.63]),
    (77637.5, [0.02, 0.12, 0.27, 0.41, 0.56, 0.72]),
    (77642.0, [0.07, 0.21, 0.36, 0.51]),
    (77646.5, [0.04, 0.13, 0.28, 0.43, 0.59]),
    (77651.0, [0.09, 0.23, 0.39, 0.54, 0.69]),
    (77655.5, [0.02, 0.12, 0.27, 0.42, 0.57]),
    (77660.0, [0.10, 0.21, 0.35, 0.50, 0.66]),
    (77664.5, [0.05, 0.12, 0.26, 0.40, 0.54, 0.70]),
    (77669.0, [0.09, 0.18, 0.32, 0.47, 0.62]),
    (77673.5, [0.02, 0.12, 0.26, 0.41, 0.55]),
    (77678.0, [0.08, 0.21, 0.36, 0.51, 0.67]),
    (77682.5, [0.04, 0.12, 0.26, 0.41, 0.57]),
    (77687.0, [0.10, 0.20, 0.35, 0.50]),
    (77691.5, [0.02, 0.12, 0.26, 0.41, 0.56, 0.71]),
    (77696.0, [0.08, 0.17, 0.32, 0.47, 0.62]),
    (77700.5, [0.04, 0.12, 0.26, 0.40, 0.55]),
    (77704.5, [0.09, 0.19, 0.34, 0.49, 0.64]),
]

# fine-mapping
cs95_box = (77128.8, 77214.4, 7.33, 8.81)      # FINEMAP 95% credible set extent
susie_names = ["rs7654472", "rs6823078"]
susie_snp = [(77183.6, 8.66), (77196.0, 5.00)]
susie_label_at = [(77227.8, 9.16), (77281.2, 6.49)]
susie_line_from = [(77198.8, 8.92), (77251.2, 6.26)]
susie_stub = [(77556.6, 0.30), (77583.7, 0.30)]

gwas_line = 7.30103
suggestive_line = 6.0

# genes (kb), row 1 is the top row of the track
gene_names = ["ART3", "NUP54", "CXCL10", "CXCL11", "SCARB2", "FAM47E",
              "FAM47E-STBD1", "STBD1", "CCDC158", "SHROOM3"]
gene_start = [76930.7, 77034.0, 76940.6, 76952.6, 77078.5, 77133.7, 77171.2, 77225.7, 77232.0, 77355.1]
gene_end = [77036.8, 77072.2, 76947.6, 76959.7, 77138.0, 77207.3, 77234.9, 77234.9, 77331.1, 77707.5]
gene_row = [1, 1, 2, 3, 2, 3, 1, 2, 3, 1]
gene_label_side = ["below", "above", "below", "below", "above", "above", "below", "below", "below", "above"]

legend_labels = ["1.0", "0.8", "0.6", "0.4", "0.2", "Unknown"]
legend_colors = ["#FF0000", "#FFA500", "#00EE00", "#87CEFA", "#000080", "#7F7F7F"]

SANS = "Liberation Sans, Arial, Helvetica, sans-serif"
DJV = "DejaVu Sans, Verdana, sans-serif"
GENE_GREY = "#878787"
LABEL_BG = "#F9F0B7"

# page body has an 8px margin, so the figure is 8px smaller than the window
FIG_W, FIG_H = 1322, 1180


def to_bp(pts):
    return [p[0] * 1000 for p in pts], [p[1] for p in pts]


# page pixel -> paper helpers for the hand-drawn legend (plot area 132..1309 x 77..1075)
def fx(px):
    return (px - 132) / 1177


def fy(py):
    return (1075 - py) / 998


fig = go.Figure()


def add_snps(pts, color):
    x, y = to_bp(pts)
    fig.add_trace(go.Scatter(x=x, y=y, mode="markers", xaxis="x", yaxis="y",
                             marker=dict(color=color, size=8.5, line=dict(width=0)),
                             hoverinfo="skip", showlegend=False))


band = []
for pos, vals in r2_02_band + r2_02_band_fill:
    for v in vals:
        band.append((pos, v))

add_snps(r2_unknown, legend_colors[5])
add_snps(band + r2_02_left + r2_02_mid + r2_02_block + r2_02_right + r2_02_peak, legend_colors[4])
add_snps(r2_04, legend_colors[3])
add_snps(r2_06, legend_colors[2])
add_snps(r2_08, legend_colors[1])
add_snps(lead_snp, legend_colors[0])

# label leader lines
for start, snp in zip(susie_line_from, susie_snp):
    lx, ly = to_bp([start, snp])
    fig.add_trace(go.Scatter(x=lx, y=ly, mode="lines", xaxis="x", yaxis="y",
                             line=dict(color="black", width=2), hoverinfo="skip", showlegend=False))
sx, sy = to_bp(susie_stub)
fig.add_trace(go.Scatter(x=sx, y=sy, mode="lines", xaxis="x", yaxis="y",
                         line=dict(color="black", width=2.5), hoverinfo="skip", showlegend=False))

# gene track
annotations = []
for name, s, e, row, side in zip(gene_names, gene_start, gene_end, gene_row, gene_label_side):
    fig.add_trace(go.Scatter(x=[s * 1000, e * 1000], y=[row, row], mode="lines+markers",
                             xaxis="x2", yaxis="y2",
                             line=dict(color=GENE_GREY, width=7),
                             marker=dict(color=GENE_GREY, size=7, line=dict(width=0)),
                             hoverinfo="skip", showlegend=False))
    annotations.append(dict(xref="x2", yref="y2", x=(s + e) / 2 * 1000, y=row,
                            text="<i>%s</i>" % name, showarrow=False,
                            xanchor="center", yanchor="middle",
                            yshift=18 if side == "above" else -23,
                            font=dict(family=SANS, size=19, color="black")))

for name, (px_, py_) in zip(susie_names, susie_label_at):
    annotations.append(dict(xref="x", yref="y", x=px_ * 1000, y=py_, text=name, showarrow=False,
                            xanchor="center", yanchor="middle", bgcolor=LABEL_BG, borderpad=0,
                            font=dict(family=DJV, size=28, color="black")))

shapes = [
    dict(type="line", xref="paper", yref="y", x0=0, x1=1, y0=gwas_line, y1=gwas_line,
         line=dict(color="#FF0000", width=2, dash="12px,7px"), layer="below"),
    dict(type="line", xref="paper", yref="y", x0=0, x1=1, y0=suggestive_line, y1=suggestive_line,
         line=dict(color="#0000FF", width=2, dash="12px,7px"), layer="below"),
    dict(type="rect", xref="paper", yref="paper", x0=fx(1058), x1=fx(1297), y0=fy(432), y1=fy(88),
         fillcolor="white", line=dict(width=0), layer="below"),
    dict(type="rect", xref="x", yref="y", x0=cs95_box[0] * 1000, x1=cs95_box[1] * 1000,
         y0=cs95_box[2], y1=cs95_box[3], line=dict(color="#FF0000", width=2)),
]

# legend
annotations.append(dict(xref="paper", yref="paper", x=fx(1128), y=fy(108), text="r<sup>2</sup>",
                        xanchor="center", yanchor="middle", showarrow=False,
                        font=dict(family=DJV, size=19, color="black")))
for i, (lab, col) in enumerate(zip(legend_labels, legend_colors)):
    yc = 146 + i * 26.3
    shapes.append(dict(type="rect", xref="paper", yref="paper", x0=fx(1068), x1=fx(1086),
                       y0=fy(yc + 7), y1=fy(yc - 7), fillcolor=col, line=dict(width=0)))
    annotations.append(dict(xref="paper", yref="paper", x=fx(1105), y=fy(yc), text=lab,
                            xanchor="left", yanchor="middle", showarrow=False,
                            font=dict(family=DJV, size=19, color="black")))

shapes.append(dict(type="rect", xref="paper", yref="paper", x0=fx(1068), x1=fx(1085),
                   y0=fy(370), y1=fy(357), fillcolor="white", line=dict(color="#FF0000", width=1)))
shapes.append(dict(type="rect", xref="paper", yref="paper", x0=fx(1068), x1=fx(1085),
                   y0=fy(423), y1=fy(409), fillcolor=LABEL_BG, line=dict(color="#333333", width=1)))
for txt, xp, yp in [("fine-mapping", 1103, 333), ("95% credible set", 1100, 363),
                    ("(FINEMAP)", 1100, 389), ("SuSiE", 1100, 416)]:
    annotations.append(dict(xref="paper", yref="paper", x=fx(xp), y=fy(yp), text=txt,
                            xanchor="left", yanchor="middle", showarrow=False,
                            font=dict(family=DJV, size=19, color="black")))

# axis titles
annotations.append(dict(xref="paper", yref="paper", x=fx(40), y=fy(453),
                        text="\u2212 log<sub>10</sub>(<i>P</i>)", textangle=-90, showarrow=False,
                        xanchor="center", yanchor="middle",
                        font=dict(family=SANS, size=25, color="black")))
annotations.append(dict(xref="paper", yref="paper", x=0.5, y=fy(1165),
                        text="Position on Chromosome 4", showarrow=False,
                        xanchor="center", yanchor="middle",
                        font=dict(family=SANS, size=26, color="black")))

x_range = [76902370, 77735055]
frame = dict(showline=True, mirror=True, linecolor="black", linewidth=2,
             showgrid=False, zeroline=False)

fig.update_layout(
    width=FIG_W, height=FIG_H,
    margin=dict(l=124, r=21, t=69, b=113),
    paper_bgcolor="white", plot_bgcolor="white",
    showlegend=False,
    title=dict(text="<b>Association of SCARB2 with PD in Europeans</b>",
               x=0.5, xref="paper", y=1 - 26 / FIG_H, yref="container", yanchor="middle",
               font=dict(family=SANS, size=33, color="black")),
    xaxis=dict(domain=[0, 1], anchor="y", range=x_range, showticklabels=False, ticks="", **frame),
    yaxis=dict(domain=[0.2465, 1], anchor="x", range=[-0.37, 9.93],
               tickvals=[0, 2, 4, 6, 8], ticks="outside", ticklen=13, tickwidth=2, tickcolor="black",
               tickangle=-90, ticklabelstandoff=18,
               tickfont=dict(family=SANS, size=26, color="black"), **frame),
    xaxis2=dict(domain=[0, 1], anchor="y2", range=x_range,
                tickvals=[77000000, 77200000, 77400000, 77600000], tickformat="d",
                ticks="outside", ticklen=13, tickwidth=2, tickcolor="black", ticklabelstandoff=0,
                tickfont=dict(family=SANS, size=26, color="black"), **frame),
    yaxis2=dict(domain=[0, 0.2285], anchor="x2", range=[3.658, 0.401],
                showticklabels=False, ticks="", **frame),
    shapes=shapes,
    annotations=annotations,
)

fig.write_html("out.html")
